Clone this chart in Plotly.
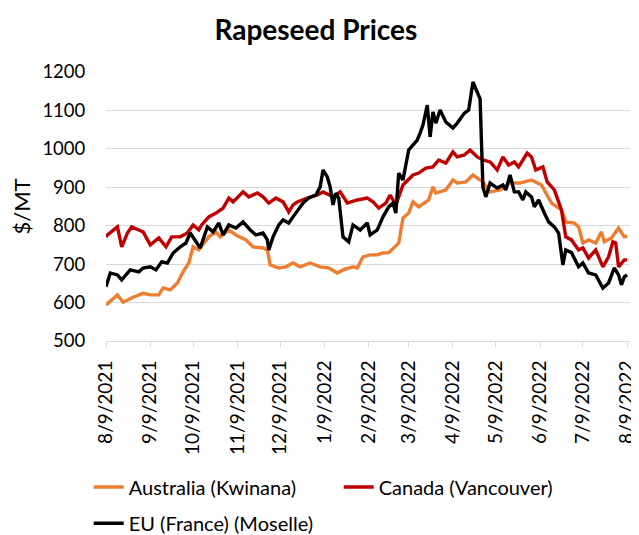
import pandas as pd
import plotly.graph_objects as go

START = "2021-08-09"
tick_labels = ["8/9/2021", "9/9/2021", "10/9/2021", "11/9/2021", "12/9/2021", "1/9/2022",
               "2/9/2022", "3/9/2022", "4/9/2022", "5/9/2022", "6/9/2022", "7/9/2022", "8/9/2022"]

# days since 8/9/2021, values in $/MT
aus_day = [0, 8, 12, 19, 26, 31, 37, 40, 45, 50, 54, 58, 61, 65, 72, 77, 80, 86, 91, 98, 103, 110,
           113, 115, 121, 126, 131, 136, 143, 150, 156, 162, 166, 173, 176, 180, 185, 190, 194, 198,
           201, 205, 208, 212, 215, 219, 226, 229, 231, 238, 243, 246, 252, 257, 264, 269, 276, 283,
           290, 298, 305, 312, 319, 322, 328, 331, 334, 338, 343, 347, 349, 354, 359, 363, 365]
aus_val = [594, 620, 601, 614, 624, 620, 620, 638, 633, 651, 680, 703, 745, 737, 771, 784, 771, 789,
           776, 763, 745, 742, 737, 698, 690, 693, 703, 693, 703, 693, 690, 677, 685, 693, 690, 719,
           724, 724, 729, 730, 740, 755, 820, 833, 862, 849, 867, 901, 885, 893, 919, 911, 914, 932,
           914, 888, 893, 911, 911, 919, 906, 859, 841, 810, 807, 797, 755, 763, 755, 784, 758, 768,
           794, 771, 773]

can_day = [0, 1, 8, 11, 15, 18, 23, 26, 31, 37, 42, 46, 52, 57, 61, 65, 67, 72, 77, 82, 86, 89, 96,
           100, 106, 110, 114, 119, 124, 128, 131, 134, 141, 148, 152, 159, 164, 169, 176, 183, 187,
           191, 196, 199, 203, 208, 215, 219, 224, 229, 233, 238, 243, 246, 251, 255, 260, 264, 269,
           274, 278, 282, 286, 289, 295, 298, 301, 306, 309, 314, 319, 322, 326, 331, 334, 338, 343,
           348, 352, 355, 357, 359, 363, 365]
can_val = [771, 776, 797, 745, 781, 797, 789, 784, 750, 768, 745, 771, 771, 781, 802, 789, 802, 823,
           833, 846, 872, 862, 888, 875, 885, 875, 859, 872, 862, 836, 854, 862, 872, 880, 888, 875,
           888, 859, 867, 872, 862, 846, 859, 880, 854, 906, 932, 937, 950, 953, 971, 963, 992, 979,
           984, 997, 979, 971, 966, 945, 979, 958, 966, 953, 989, 979, 945, 953, 914, 893, 841, 771,
           763, 737, 742, 716, 737, 693, 719, 758, 755, 693, 711, 711]

eu_day = [0, 3, 8, 11, 17, 23, 26, 31, 35, 39, 43, 47, 52, 56, 59, 63, 66, 71, 75, 79, 82, 86, 91,
          96, 101, 105, 110, 113, 114, 117, 121, 124, 128, 131, 134, 138, 142, 147, 150, 152, 155,
          157, 159, 161, 163, 166, 170, 173, 178, 183, 185, 190, 194, 198, 201, 203, 205, 208, 212,
          215, 218, 220, 222, 225, 227, 229, 231, 234, 238, 243, 246, 251, 254, 257, 260, 262, 264,
          266, 269, 274, 278, 280, 283, 286, 289, 292, 294, 298, 300, 303, 307, 310, 314, 317, 320,
          322, 326, 331, 334, 338, 343, 348, 352, 356, 359, 361, 363, 365]
eu_val = [641, 677, 672, 659, 685, 680, 690, 693, 685, 706, 703, 729, 745, 755, 781, 760, 742, 797,
          784, 807, 776, 802, 794, 810, 789, 776, 781, 763, 737, 771, 802, 815, 807, 823, 840, 859,
          872, 880, 901, 945, 927, 901, 854, 885, 872, 771, 758, 802, 789, 807, 776, 789, 823, 849,
          859, 833, 937, 919, 997, 1010, 1023, 1041, 1062, 1114, 1031, 1096, 1067, 1101, 1070, 1054,
          1067, 1093, 1101, 1174, 1150, 1130, 900, 875, 911, 898, 906, 893, 932, 888, 888, 867, 888,
          875, 849, 867, 833, 810, 797, 781, 698, 737, 730, 693, 703, 677, 672, 638, 651, 690, 672,
          646, 667, 672]

start = pd.Timestamp(START)
to_dates = lambda days: [start + pd.Timedelta(days=d) for d in days]
tick_vals = [pd.to_datetime(t, format="%m/%d/%Y") for t in tick_labels]

FONT = "Lato"
fig = go.Figure()
series = [("Australia (Kwinana)", aus_day, aus_val, "#ED7D31", "legend"),
          ("Canada (Vancouver)", can_day, can_val, "#C00000", "legend"),
          ("EU (France) (Moselle)", eu_day, eu_val, "#000000", "legend2")]
for name, d, v, c, lg in series:
    fig.add_trace(go.Scatter(x=to_dates(d), y=v, name=name, mode="lines",
                             line=dict(color=c, width=3.4), legend=lg))

legend_common = dict(orientation="h", xanchor="left", yanchor="top",
                     entrywidth=205, entrywidthmode="pixels", font=dict(size=20),
                     bgcolor="rgba(0,0,0,0)")
# page body has an 8px margin, so the figure is sized to fill the 639x535 window
fig.update_layout(
    width=631, height=527,
    margin=dict(l=98, r=9, t=64, b=194, autoexpand=False),
    paper_bgcolor="white", plot_bgcolor="white",
    font=dict(family=FONT, size=20, color="#000000"),
    title=dict(text="<b>Rapeseed Prices</b>", x=0.488, xref="container", xanchor="center",
               y=1 - 22 / 527, yref="container", yanchor="middle",
               font=dict(family=FONT, size=28, color="#000000")),
    showlegend=True,
    legend=dict(x=-0.033, y=-0.47, **legend_common),
    legend2=dict(x=-0.033, y=-0.605, **legend_common),
)
# major ticks are invisible (they only push the labels down); visible short ticks via minor ticks
fig.update_xaxes(range=[start, start + pd.Timedelta(days=367)], tickmode="array",
                 tickvals=tick_vals, ticktext=tick_labels, tickangle=-90,
                 showgrid=False, showline=True, linecolor="#D9D9D9", linewidth=1,
                 ticks="outside", ticklen=11, tickcolor="rgba(0,0,0,0)",
                 minor=dict(ticks="outside", ticklen=5, tickcolor="#D9D9D9",
                            dtick="M1", tick0=START, showgrid=False),
                 tickfont=dict(size=19), zeroline=False, automargin=False)
fig.update_yaxes(range=[500, 1200], dtick=100, tick0=500, showgrid=True,
                 gridcolor="#D9D9D9", gridwidth=1, showline=False, zeroline=False,
                 ticks="outside", ticklen=16, tickcolor="rgba(0,0,0,0)",
                 tickfont=dict(size=18.5), automargin=False,
                 title=dict(text="$/MT", standoff=10, font=dict(size=22)))
fig.write_html("out.html")
